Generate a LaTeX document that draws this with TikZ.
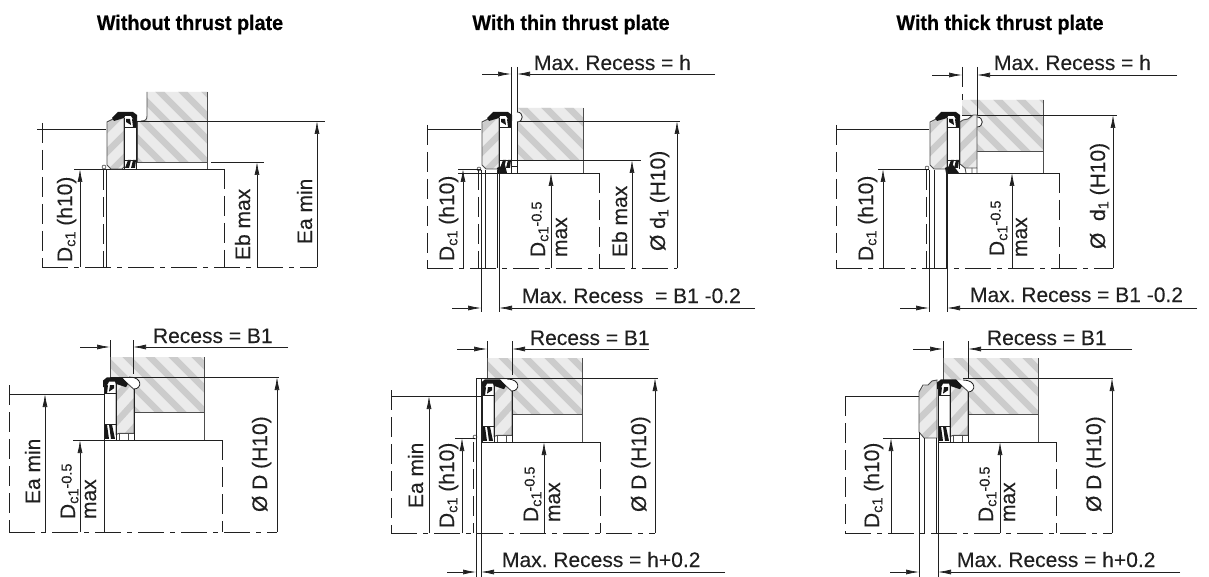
\documentclass[tikz,border=0pt]{standalone}
\usepackage{fontspec}
\setmainfont{Liberation Sans}[FakeBold=0.12]
\newfontfamily\condfont[FakeStretch=0.94,FakeBold=0.5]{Liberation Sans Bold}
\usetikzlibrary{arrows.meta}
\frenchspacing
\definecolor{ink}{HTML}{202020}
\tikzset{
  ln/.style={draw=ink,line width=0.8pt},
  gl/.style={draw=ink!80,line width=0.9pt},
  dsh/.style={draw=ink,line width=0.7pt,dash pattern=on 20pt off 7pt},
  chain/.style={draw=ink,line width=0.7pt,dash pattern=on 26pt off 6pt on 5pt off 6pt},
  dimtip/.style={draw=ink,line width=0.7pt,-{Latex[length=13pt,width=5pt]}},
  txt/.style={inner sep=0pt,outer sep=0pt,font=\fontsize{21}{22}\selectfont,text=ink},
  hz/.style={txt,anchor=base west},
  vt/.style={txt,anchor=base west,rotate=90},
  ttl/.style={inner sep=0pt,anchor=base,font=\condfont\fontsize{21}{22}\selectfont,text=black},
  hatchbg/.style={fill=black!8},
  hatchst/.style={draw=black!20,line width=6.5pt},
  blk/.style={fill=ink!70!black,draw=none}
}
\newcommand{\hatchfill}[4]{%
  \begin{scope}\clip #1;
    \fill[hatchbg] (#2-300,#3-300) rectangle (#2+300,#3+300);
    \foreach \k in {-14,...,14} \draw[hatchst] ({#2+\k*23-150*#4},#3-150) -- ({#2+\k*23+150*#4},#3+150);
  \end{scope}}
\newcommand{\sealblack}[1]{%
  \fill[blk] (6,-51)--(12,-57)--(27,-57)--(31,-54)--(31,-48)--(28,-48)--(25,-53)--(19,-53)--(18,-51)--(8,-48)--cycle;
  \fill[blk] (20,-50)--(24,-50)--(25,-44)--(20,-47)--cycle;
  \fill[blk] (26,-50)--(30,-48)--(30,-42)--(27,-42)--cycle;
  \fill[blk] (19,-1)--(22,#1)--(25,#1)--(23,-1)--cycle;
  \fill[blk] (25,-1)--(27,#1)--(30,#1)--(29,-1)--cycle;
  \draw[ln] (18,-51)--(18,0) (30,-51)--(30,0);
  \draw[ln] (18,-42)--(30,-42) (18,#1)--(30,#1);
}
\newcommand{\sealup}[2]{%
  \begin{scope}[shift={(#1,#2)}]
    \def\rp{(1,-47)--(6,-49.5)--(18,-53)--(18,-2)--(16,0)--(5,0)--(1,-4)--cycle}
    \hatchfill{\rp}{9}{-25}{-1}
    \draw[gl] \rp;
    \sealblack{-9}
  \end{scope}}
\newcommand{\sealdown}[2]{%
  \begin{scope}[shift={(#1,#2)},xscale=-1,yscale=1.1]
    \def\rp{(0,-46)--(11,-55)--(18,-52)--(18,-5)--(15,-6)--(0,-6)--cycle}
    \hatchfill{\rp}{9}{-25}{1}
    \draw[gl] \rp;
    \draw[gl] (0,-6)--(0,0) (6,-6)--(6,0) (15,-6)--(15,0);
    \sealblack{-14}
  \end{scope}}
\newcommand{\dcs}{D\raisebox{-0.16em}{\fontsize{14.5}{15}\selectfont c1}}
\newcommand{\dcm}{\dcs\raisebox{0.16em}{\fontsize{14.5}{15}\selectfont -0.5}}
\newcommand{\dsub}{d\raisebox{-0.16em}{\fontsize{14.5}{15}\selectfont 1}}
\begin{document}
\begin{tikzpicture}[x=1pt,y=-1pt]
\useasboundingbox (0,0) rectangle (1209,577);
\fill[white] (0,0) rectangle (1209,577);
% titles
\node[ttl] (t1) at (190,30) {Without thrust plate};
\node[ttl] (t2) at (571,30) {With thin thrust plate};
\node[ttl] (t3) at (1000,30) {With thick thrust plate};

%%%%% Panel 1
\def\hp{(147,92)--(207,92)--(207,162)--(137,162)--(137,121)--(141,121) .. controls (145,121) and (147,120) .. (147,116)--cycle}
\hatchfill{\hp}{170}{125}{1}
\draw[gl] (147,92)--(147,116) .. controls (147,120) and (145,121) .. (141,121);
\draw[gl] (207,92)--(207,169) (137,121)--(137,162)--(207,162);
\draw[ln] (137,121)--(325,121);
\draw[ln] (74,169)--(224,169);
\draw[ln] (211,162)--(264,162);
\draw[ln] (37,129)--(106,129);
\sealup{106}{169}
\draw (104,167) circle[radius=2];
\draw[ln] (106,170)--(106,267);
\draw[dsh] (103,170)--(103,267);
\draw[dsh] (42,123)--(42,267);
\draw[dsh] (224,169)--(224,267);
\draw[chain] (42,267)--(317,267);
\draw[dimtip] (80,267)--(80,169);
\draw[dimtip] (257,267)--(257,162);
\draw[dimtip] (317,267)--(317,121);
\node[vt] (a1) at (72,262) {\dcs\ (h10)};
\node[vt] (a2) at (250,260) {Eb max};
\node[vt] (a3) at (312,244) {Ea min};

%%%%% Panel 2
\def\hp{(517,108)--(583,108)--(583,160)--(517,160)--(517,122) .. controls (524,122) and (524,112) .. (517,112)--cycle}
\hatchfill{\hp}{550}{135}{1}
\draw[gl] (583,108)--(583,173);
\draw[ln] (517,122) .. controls (524,122) and (524,112) .. (517,112);
\draw[ln] (520,121)--(680,121);
\draw[ln] (511,160)--(641,160);
\draw[ln] (458,173)--(599,173);
\draw[ln] (427,129)--(481,129);
\draw[ln] (458,169)--(481,169);
\sealup{481}{169}
\fill[blk] (497,168)--(505,165)--(507,173)--(498,173)--cycle;
\draw (479,169) circle[radius=2];
\draw[ln] (511,67)--(511,173) (517,67)--(517,112) (517,122)--(517,173) (511,166)--(517,166);
\draw[ln] (481,170)--(481,312) (485,170)--(485,268) (497,170)--(497,268) (499,170)--(499,312);
\draw[dsh] (478,170)--(478,268);
\draw[dsh] (427,125)--(427,268);
\draw[dsh] (599,173)--(599,268);
\draw[chain] (427,268)--(677,268);
\draw[dimtip] (463,268)--(463,169);
\draw[dimtip] (551,268)--(551,173);
\draw[dimtip] (632,268)--(632,160);
\draw[dimtip] (677,268)--(677,121);
\draw[dimtip] (482,74)--(511,74);
\draw[dimtip] (715,74)--(517,74);
\draw[dimtip] (452,308)--(481,308);
\draw[dimtip] (755,308)--(499,308);
\node[hz] (b1) at (534,70) {Max. Recess = h};
\node[hz] (b2) at (522,303) {Max. Recess\ \ = B1 -0.2};
\node[vt] (b3) at (454,261) {\dcs\ (h10)};
\node[vt] (b4) at (545,257) {\dcm};
\node[vt] (b5) at (567,257) {max};
\node[vt] (b6) at (627,257) {Eb max};
\node[vt] (b7) at (665,251) {Ø \dsub\ (H10)};

%%%%% Panel 3
\def\hp{(962,100)--(1043,100)--(1043,151)--(977,151)--(977,127) .. controls (984,127) and (984,117) .. (977,117)--(975,115)--(962,115)--cycle}
\hatchfill{\hp}{1000}{125}{1}
\draw[gl] (1043,100)--(1043,173) (977,151)--(1043,151);
\draw[ln] (977,127) .. controls (984,127) and (984,117) .. (977,117);
\draw[ln] (962,115)--(1117,115);
\draw[ln] (948,173)--(1059,173);
\draw[ln] (836,129)--(929,129);
\draw[ln] (878,169)--(929,169);
\def\rq{(960,122)--(963,120)--(968,119)--(973,115)--(977,115)--(977,168)--(965,168)--(960,164)--cycle}
\hatchfill{\rq}{968}{140}{-1}
\draw[gl] \rq;
\draw[gl] (965,168)--(966,173) (972,168)--(972,173) (977,168)--(977,173);
\sealup{929}{169}
\fill[blk] (945,168)--(953,165)--(959,173)--(946,173)--cycle;
\draw (927,168) circle[radius=2];
\draw[ln] (977,67)--(977,115);
\draw[dsh] (962,67)--(962,100);
\draw[ln] (929,170)--(929,312) (934,170)--(934,268) (946,170)--(946,268) (947,170)--(947,312);
\draw[dsh] (926,170)--(926,268);
\draw[dsh] (836,125)--(836,268);
\draw[dsh] (1059,173)--(1059,268);
\draw[chain] (836,268)--(1113,268);
\draw[dimtip] (883,268)--(883,169);
\draw[dimtip] (1012,268)--(1012,173);
\draw[dimtip] (1113,268)--(1113,115);
\draw[dimtip] (932,75)--(962,75);
\draw[dimtip] (1177,75)--(977,75);
\draw[dimtip] (900,308)--(929,308);
\draw[dimtip] (1197,308)--(947,308);
\node[hz] (c1) at (994,70) {Max. Recess = h};
\node[hz] (c2) at (970,302) {Max. Recess = B1 -0.2};
\node[vt] (c3) at (873,261) {\dcs\ (h10)};
\node[vt] (c4) at (1004,256) {\dcm};
\node[vt] (c5) at (1027,257) {max};
\node[vt] (c6) at (1105,249) {Ø\ \ \dsub\ (H10)};

%%%%% Panel 4
\def\hp{(110,357)--(204,357)--(204,412)--(134,412)--(134,389) .. controls (142,389) and (143,377) .. (129,377)--(110,377)--cycle}
\hatchfill{\hp}{155}{385}{1}
\draw[gl] (110,357)--(110,377) (204,357)--(204,440) (134,412)--(204,412);
\draw[ln] (134,389) .. controls (142,389) and (143,377) .. (129,377);
\draw[ln] (110,377)--(279,377);
\draw[ln] (73,440)--(222,440);
\draw[ln] (9,394)--(104,394);
\sealdown{134}{440}
\draw[ln] (134,389)--(134,440);
\draw[line width=1pt,ink] (104,440)--(104,532);
\draw[ln] (110,340)--(110,357) (133,340)--(133,374);
\draw[dsh] (9,385)--(9,532);
\draw[dsh] (222,440)--(222,532);
\draw[chain] (9,532)--(277,532);
\draw[dimtip] (45,532)--(45,394);
\draw[dimtip] (80,532)--(80,440);
\draw[dimtip] (277,532)--(277,377);
\draw[dimtip] (80,347)--(110,347);
\draw[dimtip] (288,347)--(133,347);
\node[hz] (d1) at (153,343) {Recess = B1};
\node[vt] (d2) at (40,504) {Ea min};
\node[vt] (d3) at (75,519) {\dcm};
\node[vt] (d4) at (96,519) {max};
\node[vt] (d5) at (267,512) {Ø D (H10)};

%%%%% Panel 5
\def\hp{(487,358)--(582,358)--(582,414)--(512,414)--(512,391) .. controls (520,391) and (521,379) .. (507,379)--(487,379)--cycle}
\hatchfill{\hp}{530}{385}{1}
\draw[gl] (487,358)--(487,378) (582,358)--(582,442) (512,414)--(582,414);
\draw[ln] (512,391) .. controls (520,391) and (521,379) .. (507,379);
\draw[ln] (476,378)--(658,378);
\draw[ln] (482,442)--(600,442);
\draw[ln] (391,396)--(482,396);
\draw[ln] (455,438)--(475,438);
\sealdown{512}{442}
\draw[ln] (512,391)--(512,442);
\draw (475,437) circle[radius=2];
\draw[ln] (476,378)--(476,577) (481,378)--(481,577);
\draw[ln] (487,341)--(487,358) (512,341)--(512,375);
\draw[dsh] (473,442)--(473,533);
\draw[dsh] (391,390)--(391,533);
\draw[dsh] (600,442)--(600,533);
\draw[chain] (391,533)--(655,533);
\draw[dimtip] (429,533)--(429,396);
\draw[dimtip] (462,533)--(462,438);
\draw[dimtip] (544,533)--(544,442);
\draw[dimtip] (655,533)--(655,378);
\draw[dimtip] (457,349)--(487,349);
\draw[dimtip] (649,349)--(512,349);
\draw[dimtip] (447,572)--(476,572);
\draw[dimtip] (725,572)--(481,572);
\node[hz] (e1) at (530,345) {Recess = B1};
\node[hz] (e2) at (502,567) {Max. Recess = h+0.2};
\node[vt] (e3) at (423,508) {Ea min};
\node[vt] (e4) at (454,528) {\dcs\ (h10)};
\node[vt] (e5) at (538,522) {\dcm};
\node[vt] (e6) at (560,522) {max};
\node[vt] (e7) at (646,512) {Ø D (H10)};

%%%%% Panel 6
\def\hp{(943,358)--(1038,358)--(1038,414)--(968,414)--(968,392) .. controls (976,392) and (977,380) .. (963,380)--(943,380)--cycle}
\hatchfill{\hp}{985}{385}{1}
\draw[gl] (943,358)--(943,380) (1038,358)--(1038,442) (968,414)--(1038,414);
\draw[ln] (968,392) .. controls (976,392) and (977,380) .. (963,380);
\draw[ln] (963,378)--(1113,378);
\draw[ln] (938,442)--(1056,442);
\draw[ln] (845,396)--(919,396);
\draw[ln] (883,438)--(919,438);
\def\rq{(919,392)--(923,385)--(928,385)--(932,381)--(937,380)--(937,438)--(924,438)--(919,432)--cycle}
\hatchfill{\rq}{928}{410}{-1}
\draw[gl] \rq;
\sealdown{968}{442}
\draw[ln] (968,392)--(968,442);
\draw[ln] (919,432)--(919,577) (924,438)--(924,533);
\draw[line width=1pt,ink] (936,438)--(936,533) (938,440)--(938,577);
\draw[ln] (943,341)--(943,358) (968,341)--(968,378);
\draw[dsh] (845,396)--(845,533);
\draw[dsh] (1056,442)--(1056,533);
\draw[chain] (845,533)--(1112,533);
\draw[dimtip] (891,533)--(891,438);
\draw[dimtip] (1000,533)--(1000,442);
\draw[dimtip] (1112,533)--(1112,378);
\draw[dimtip] (913,349)--(943,349);
\draw[dimtip] (1132,349)--(968,349);
\draw[dimtip] (890,572)--(919,572);
\draw[dimtip] (1180,572)--(938,572);
\node[hz] (f1) at (987,345) {Recess = B1};
\node[hz] (f2) at (957,567) {Max. Recess = h+0.2};
\node[vt] (f3) at (879,528) {\dcs\ (h10)};
\node[vt] (f4) at (993,522) {\dcm};
\node[vt] (f5) at (1015,522) {max};
\node[vt] (f6) at (1101,512) {Ø D (H10)};
\end{tikzpicture}
\end{document}
